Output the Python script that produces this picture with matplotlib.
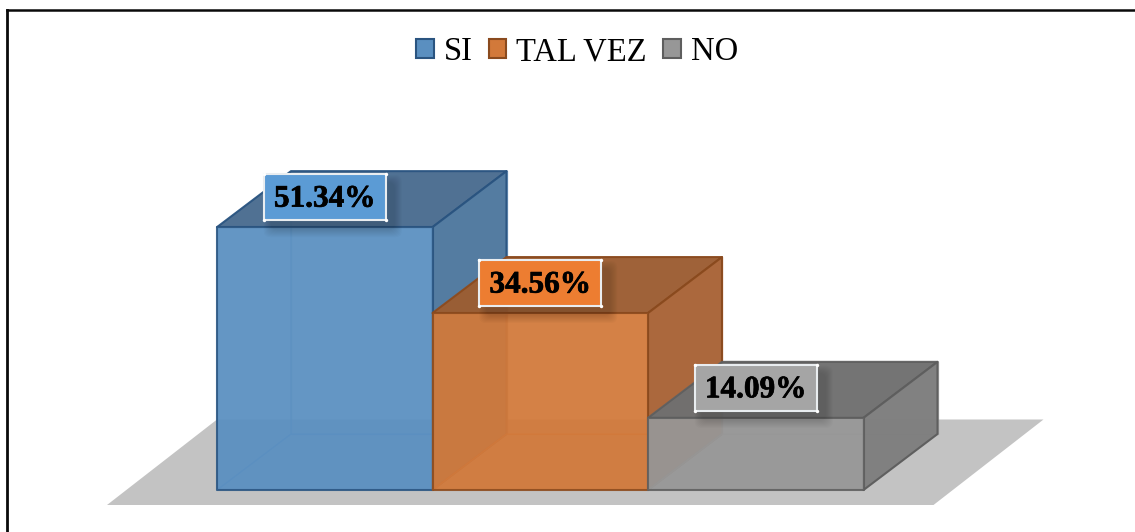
import matplotlib
matplotlib.use("Agg")
import matplotlib.pyplot as plt
import matplotlib.patheffects as pe
from matplotlib.lines import Line2D
from matplotlib.patches import FancyBboxPatch, Polygon, Rectangle

# Datos del grafico
categorias = ["SI", "TAL VEZ", "NO"]
valores = [51.34, 34.56, 14.09]
etiquetas = ["51.34%", "34.56%", "14.09%"]

# Colores: frente, arriba, lado, borde
c_frente = ["#5a8fc0", "#d2793a", "#979797"]
c_arriba = ["#4a6b8e", "#9a5c32", "#6e6e6e"]
c_lado = ["#527a9f", "#a9663a", "#7f7f7f"]
c_borde = ["#2a5480", "#8a4a1e", "#5e5e5e"]
c_etiqueta = ["#5b9bd5", "#ed7d31", "#a5a5a5"]

W, H = 1135, 532
ANCHO_PX = 215.5
ALTO_PX = 5.12
X0, Y0 = 217, 490

plt.rcParams["font.family"] = ["Liberation Serif", "DejaVu Serif"]

fig = plt.figure(figsize=(W / 100, H / 100), dpi=100)
ax = fig.add_axes([0, 0, 1, 1])
# Una unidad en x es una barra, una unidad en y es un punto porcentual
ax.set_xlim(-X0 / ANCHO_PX, (W - X0) / ANCHO_PX)
ax.set_ylim((Y0 - H) / ALTO_PX, Y0 / ALTO_PX)
ax.axis("off")

dx = 74 / ANCHO_PX  # profundidad
dy = 56 / ALTO_PX
n = len(valores)

# Piso gris
bajo = -15 / ALTO_PX
alto = 70.5 / ALTO_PX
ax.add_patch(Polygon([(-110 / ANCHO_PX, bajo), (n + 70 / ANCHO_PX, bajo),
                      (n + 180 / ANCHO_PX, alto), (0, alto)],
                     closed=True, fc="#c3c3c3", ec="none", zorder=1))


def cara(puntos, color, borde, z, alpha=0.92, lw=1.5):
    ax.add_patch(Polygon(puntos, closed=True, fc=color, ec=borde, lw=lw,
                         alpha=alpha, zorder=z, joinstyle="round"))


for i, v in enumerate(valores):
    z = 2 + i * 2
    l, r = i, i + 1
    # caras traseras que se ven por transparencia
    cara([(l + dx, dy), (r + dx, dy), (r + dx, v + dy), (l + dx, v + dy)],
         c_frente[i], c_frente[i], z, alpha=0.55, lw=1)
    cara([(l, 0), (r, 0), (r + dx, dy), (l + dx, dy)],
         c_frente[i], c_frente[i], z, alpha=0.55, lw=1)
    cara([(l, 0), (l + dx, dy), (l + dx, v + dy), (l, v)],
         c_frente[i], c_frente[i], z, alpha=0.55, lw=1)
    # caras visibles
    cara([(l, v), (r, v), (r + dx, v + dy), (l + dx, v + dy)],
         c_arriba[i], c_borde[i], z + 0.1, alpha=0.93)
    cara([(r, 0), (r + dx, dy), (r + dx, v + dy), (r, v)],
         c_lado[i], c_borde[i], z + 0.1, alpha=0.97)
    cara([(l, 0), (r, 0), (r, v), (l, v)],
         c_frente[i], c_borde[i], z + 0.2, alpha=0.86)

# Etiquetas de datos
caja_w = 122 / ANCHO_PX
caja_h = 46 / ALTO_PX
for i, v in enumerate(valores):
    cx = i + 0.5
    cy = v + 30 / ALTO_PX
    # sombra suave de la caja, corrida hacia abajo y a la derecha
    for k in range(8, 0, -1):
        ax.add_patch(FancyBboxPatch((cx - caja_w / 2 + 8 / ANCHO_PX - k / ANCHO_PX,
                                     cy - caja_h / 2 - 9 / ALTO_PX - k / ALTO_PX),
                                    caja_w + k * 2 / ANCHO_PX, caja_h + k * 2 / ALTO_PX,
                                    boxstyle="round,pad=0,rounding_size=0.03",
                                    mutation_aspect=ANCHO_PX / ALTO_PX,
                                    fc="black", ec="none", alpha=0.02, zorder=20))
    ax.add_patch(Rectangle((cx - caja_w / 2, cy - caja_h / 2), caja_w, caja_h,
                           fc=c_etiqueta[i], ec="#e9edf0", lw=1.5, zorder=21))
    ax.scatter([cx - caja_w / 2, cx + caja_w / 2, cx - caja_w / 2, cx + caja_w / 2],
               [cy - caja_h / 2, cy - caja_h / 2, cy + caja_h / 2, cy + caja_h / 2],
               s=6, c="white", zorder=22, linewidths=0)
    ax.text(cx, cy - 2 / ALTO_PX, etiquetas[i], ha="center", va="center",
            fontsize=22.5, fontweight="bold", color="black", zorder=23,
            path_effects=[pe.withStroke(linewidth=0.5, foreground="black")])

# Leyenda
handles = [Rectangle((0, 0), 1, 1, fc=c_frente[i], ec=c_borde[i], lw=1.5) for i in range(n)]
ax.legend(handles, categorias, ncols=3, loc="center", bbox_to_anchor=(577 / W, 1 - 52 / H),
          frameon=False, fontsize=23.5, handlelength=0.54, handleheight=0.54,
          handletextpad=0.3, columnspacing=0.5, borderpad=0, labelspacing=0)

# Marco negro: solo arriba y a la izquierda
fig.add_artist(Line2D([7 / W, 7 / W], [0, 1 - 10 / H], transform=fig.transFigure,
                      color="#0a0a0a", lw=2))
fig.add_artist(Line2D([7 / W, 1], [1 - 10 / H, 1 - 10 / H], transform=fig.transFigure,
                      color="#0a0a0a", lw=1.8))

fig.savefig("out.png", dpi=100)
